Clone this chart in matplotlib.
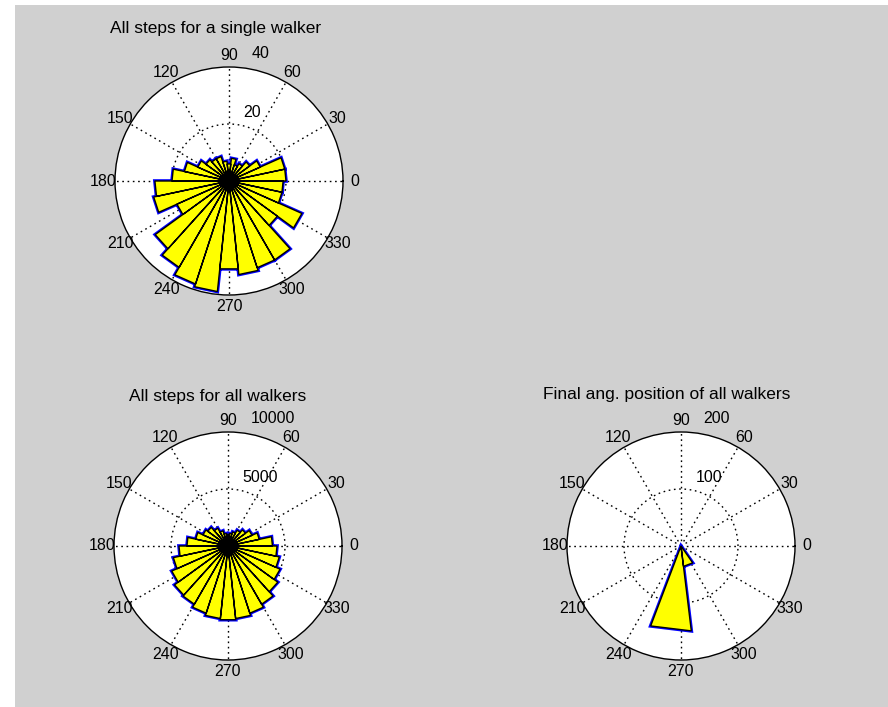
import numpy as np
import matplotlib.pyplot as plt
from matplotlib.patches import Rectangle

plt.rcParams['font.family'] = ['Liberation Sans', 'DejaVu Sans']

# step-direction histograms, 30 equal bins starting at 0 deg
single_walker = [20, 20, 12, 9, 7, 6, 8, 6, 7, 9, 9, 10, 12, 16, 20,
                 26, 27, 20, 32, 35, 38, 39, 31, 33, 32, 32, 21, 28, 19, 19]
all_walkers = [3900, 2800, 2300, 1900, 1600, 1300, 1100, 1000, 1100, 1400,
               1800, 2200, 2400, 2900, 3600, 4300, 4900, 5400, 5800, 5900,
               6200, 6400, 6500, 6400, 6200, 5900, 5400, 5000, 4600, 4300]
# final angular positions, 13 equal bins starting at 0 deg
final_position = [0, 0, 0, 0, 0, 0, 0, 0, 0, 150, 36, 0, 0]

titles = ["All steps for a single walker", "All steps for all walkers",
          "Final ang. position of all walkers"]
rmaxes = [40, 10000, 200]
theta_labels = [str(a) for a in range(0, 360, 30)]

W, H = 888, 707
fig = plt.figure(figsize=(W / 100, H / 100), dpi=100, facecolor='white')
fig.patches.append(Rectangle((15 / W, 0), 1, 1 - 5 / H, transform=fig.transFigure,
                             facecolor='#d0d0d0', edgecolor='none', zorder=-10))

# circle centres (px from top-left) and radius
centres = [(229, 181), (228, 546), (681, 546)]
title_pos = [(216, 28), (218, 396), (667, 395)]
R = 114
fs = 11.5


def rose(ax, counts, rmax):
    n = len(counts)
    edges = np.linspace(0, 2 * np.pi, n + 1)
    counts = np.asarray(counts, dtype=float)
    zero = np.zeros(n)
    theta = np.column_stack([edges[:-1], edges[:-1], edges[1:], edges[1:]]).ravel()
    r = np.column_stack([zero, counts, counts, zero]).ravel()
    # blue rose outline underneath, yellow patch with black edges on top
    ax.fill(theta, r, facecolor='none', edgecolor='#0000ff', linewidth=2.6, zorder=2)
    ax.fill(theta, r, facecolor='#ffff00', edgecolor='black', linewidth=1.0, zorder=3)

    ax.set_ylim(0, rmax)
    ax.set_xticks(np.deg2rad(np.arange(0, 360, 30)))
    ax.set_xticklabels([])
    ax.set_yticks([rmax / 2])
    ax.set_yticklabels([])
    ax.tick_params(length=0)
    ax.set_axisbelow(True)
    ax.grid(True, color='black', linestyle=(0, (1.2, 2.6)), linewidth=1.0)
    ax.spines['polar'].set_color('black')
    ax.spines['polar'].set_linewidth(1.0)
    ax.set_facecolor('white')

    for a, lab in zip(np.arange(0, 360, 30), theta_labels):
        ax.text(np.deg2rad(a), 1.1 * rmax, lab, ha='center', va='center',
                fontsize=fs, clip_on=False)
    ax.text(np.deg2rad(78), 0.61 * rmax, f"{rmax // 2:g}", ha='left', va='center',
            fontsize=fs)
    ax.text(np.deg2rad(80), 1.14 * rmax, f"{rmax:g}", ha='left', va='center',
            fontsize=fs, clip_on=False)


for (cx, cy), (tx, ty), title, data, rmax in zip(
        centres, title_pos, titles, [single_walker, all_walkers, final_position], rmaxes):
    ax = fig.add_axes([(cx - R) / W, 1 - (cy + R) / H, 2 * R / W, 2 * R / H],
                      projection='polar')
    rose(ax, data, rmax)
    fig.text(tx / W, 1 - ty / H, title, ha='center', va='center', fontsize=12.5)

fig.savefig('out.png', dpi=100)
